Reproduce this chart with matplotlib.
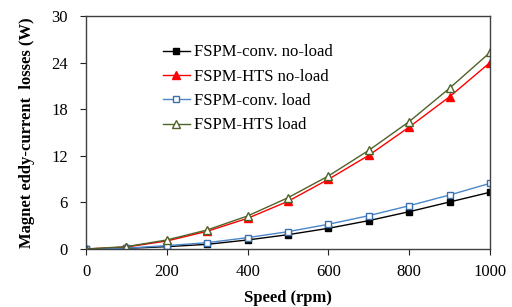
import matplotlib
matplotlib.use("Agg")
import matplotlib.pyplot as plt

# Данные
speed = [0, 100, 200, 300, 400, 500, 600, 700, 800, 900, 1000]
conv_noload = [0, 0.08, 0.3, 0.6, 1.16, 1.84, 2.66, 3.65, 4.8, 6.05, 7.3]
hts_noload = [0, 0.25, 1.03, 2.28, 3.95, 6.14, 8.97, 12.06, 15.7, 19.6, 24.0]
conv_load = [0, 0.1, 0.43, 0.81, 1.46, 2.23, 3.18, 4.29, 5.57, 6.95, 8.45]
hts_load = [0, 0.3, 1.16, 2.45, 4.25, 6.6, 9.4, 12.7, 16.4, 20.7, 25.3]

x_ticks = [0, 200, 400, 600, 800, 1000]
y_ticks = [0, 6, 12, 18, 24, 30]

plt.rcParams['font.family'] = ['Liberation Serif', 'DejaVu Serif']
plt.rcParams['font.size'] = 12

fig = plt.figure(figsize=(5.12, 3.07), dpi=100)
ax = fig.add_axes([0.168, 0.189, 0.789, 0.759])

ax.plot(speed, conv_noload, color='black', lw=1, marker='s', ms=5,
        label='FSPM-conv. no-load')
ax.plot(speed, hts_noload, color='#ff0000', lw=1, marker='^', ms=5.5,
        label='FSPM-HTS no-load')
ax.plot(speed, conv_load, color='#4a86c8', lw=1, marker='s', ms=5,
        mfc='white', mec='#3a70b0', label='FSPM-conv. load')
ax.plot(speed, hts_load, color='#4f6228', lw=1, marker='^', ms=5.5,
        mfc='white', mec='#4f6228', label='FSPM-HTS load')

ax.set_xlim(0, 1000)
ax.set_ylim(0, 30)
ax.set_xticks(x_ticks)
ax.set_yticks(y_ticks)
ax.tick_params(direction='out', length=4, width=0.8, colors='#222222',
               labelcolor='black', labelsize=12)
ax.tick_params(axis='x', pad=7)
ax.tick_params(axis='y', pad=9)
for sp in ax.spines.values():
    sp.set_color('#404040')
    sp.set_linewidth(1)

ax.set_xlabel('Speed (rpm)', fontweight='bold', labelpad=7)
ax.set_ylabel('Magnet eddy-current  losses (W)', fontweight='bold', labelpad=12)

ax.legend(loc='center left', bbox_to_anchor=(0.174, 0.687), frameon=False,
          borderaxespad=0, labelspacing=0.5, handlelength=1.6,
          handletextpad=0.25, fontsize=12)

fig.savefig('out.png', dpi=100)
